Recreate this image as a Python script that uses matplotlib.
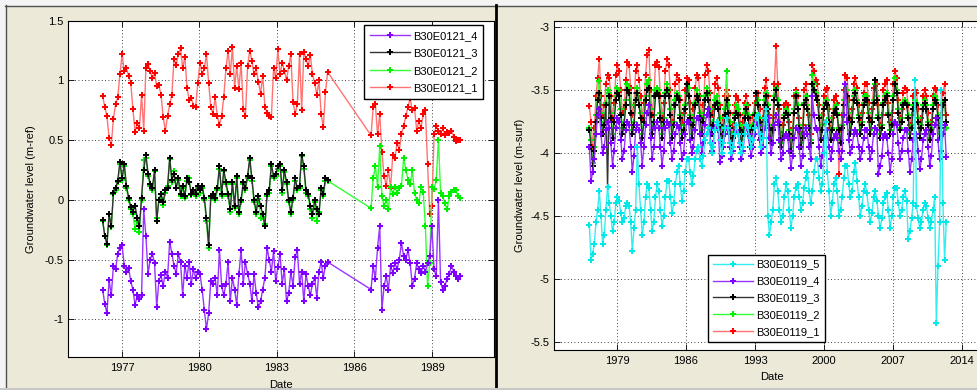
"""
Groundwater level time series for two well clusters (B30E0121, B30E0119).

Left:  B30E0121 filters 1-4, metres below reference (m-ref)
Right: B30E0119 filters 1-5, metres below surface (m-surf)

Saves: out.png
"""

import numpy as np
import matplotlib
matplotlib.use("Agg")
import matplotlib.pyplot as plt
from matplotlib.lines import Line2D
from matplotlib.patches import Rectangle

W, H = 977, 390

plt.rcParams["font.family"] = ["Liberation Sans", "DejaVu Sans"]
plt.rcParams["font.size"] = 8
plt.rcParams["axes.unicode_minus"] = False

# ---------------------------------------------------------------- left data
# monthly readings, first run Apr 1976 - Dec 1984, second run Aug 1986 - Jan 1990
left_early_span = (1976.25, 1984.96)
left_late_span = (1986.64, 1990.09)

b0121_1_early = [
    0.87, 0.78, 0.70, 0.52, 0.46, 0.68, 0.80, 0.86, 1.05,
    1.22, 1.08, 1.10, 1.04, 0.98, 0.76, 0.57, 0.64, 0.60, 0.88, 0.58, 1.10,
    1.14, 1.08, 1.02, 1.06, 0.95, 0.96, 0.88, 0.69, 0.58, 0.70, 0.80, 0.88,
    1.18, 1.13, 1.22, 1.27, 1.10, 1.20, 0.94, 0.84, 0.85, 0.79, 0.78, 0.98,
    1.15, 1.05, 1.10, 1.22, 0.98, 0.78, 0.72, 0.86, 0.70, 0.63, 0.70, 0.86,
    1.10, 1.25, 1.05, 1.28, 0.94, 1.12, 0.93, 1.15, 0.76, 0.70, 1.12, 1.25,
    1.16, 1.05, 1.10, 0.99, 0.89, 1.04, 0.78, 0.73, 0.70, 0.69, 1.10, 1.02,
    1.26, 1.05, 1.15, 1.08, 1.00, 1.12, 1.22, 0.82, 0.72, 0.80, 1.22, 0.75,
    1.24, 1.18, 1.12, 1.21, 1.05, 0.98, 0.88, 1.00, 0.72, 0.61, 0.90, 1.07,
]
b0121_1_late = [
    0.54, 0.78, 0.80, 0.55, 0.72, 0.40, 0.20, 0.12, 0.25, 0.10, 0.38, 0.35,
    0.48, 0.42, 0.55, 0.62, 0.70, 0.78, 0.85, 0.75, 0.77, 0.58, 0.66, 0.60,
    0.72, 0.75, 0.30, -0.12, -0.05, 0.55, 0.62, 0.58, 0.55, 0.60, 0.54, 0.57,
    0.56, 0.58, 0.53, 0.49, 0.50, 0.50,
]
b0121_2_early = [
    -0.18, -0.30, -0.38, -0.12, -0.23, 0.05, 0.08, 0.15, 0.30,
    0.17, 0.28, 0.10, 0.00, -0.08, -0.12, -0.24, -0.18, -0.27, 0.00, 0.33, 0.35,
    0.20, 0.12, 0.08, 0.24, -0.15, 0.00, 0.02, -0.04, 0.06, 0.12, 0.34, 0.15,
    0.24, 0.10, 0.17, 0.03, 0.10, 0.02, 0.16, 0.18, 0.04, 0.06, 0.03, 0.10,
    0.06, 0.10, 0.00, -0.18, -0.40, 0.02, 0.03, 0.00, 0.08, 0.26, 0.03, 0.24,
    0.13, 0.03, -0.10, 0.13, -0.07, 0.18, -0.12, -0.02, 0.13, 0.08, 0.18, 0.33,
    0.16, -0.02, -0.12, 0.01, -0.15, -0.14, -0.20, 0.03, 0.06, 0.28, 0.18, 0.20,
    0.26, 0.28, 0.06, 0.23, 0.13, -0.02, -0.12, 0.00, 0.16, 0.08, 0.10, 0.37,
    0.26, 0.06, 0.03, -0.08, -0.15, -0.02, -0.18, -0.10, 0.08, 0.03, 0.16, 0.16,
]
b0121_2_late = [
    -0.07, 0.18, 0.28, 0.11, 0.45, 0.03, -0.05, 0.00, -0.08, 0.11, 0.05, 0.11,
    0.06, 0.10, 0.12, 0.35, 0.25, 0.17, 0.13, 0.25, 0.06, 0.00, -0.03, 0.11,
    0.07, -0.22, -0.72, -0.53, 0.11, 0.09, 0.17, 0.50, 0.06, 0.03, -0.03, -0.08,
    0.03, 0.07, 0.08, 0.08, 0.03, 0.02,
]
b0121_3_early = [
    -0.17, -0.30, -0.37, -0.12, -0.22, 0.06, 0.10, 0.16, 0.32,
    0.18, 0.30, 0.12, 0.02, -0.06, -0.10, -0.05, -0.15, -0.22, 0.02, 0.25, 0.38,
    0.22, 0.13, 0.10, 0.25, -0.18, 0.00, 0.05, -0.02, 0.08, 0.10, 0.35, 0.17,
    0.22, 0.10, 0.18, 0.05, 0.12, 0.03, 0.18, 0.15, 0.05, 0.08, 0.05, 0.12,
    0.08, 0.12, 0.02, -0.15, -0.38, 0.03, 0.05, 0.02, 0.10, 0.28, 0.05, 0.25,
    0.15, 0.05, -0.08, 0.15, -0.05, 0.20, -0.10, 0.00, 0.15, 0.10, 0.20, 0.35,
    0.18, 0.00, -0.10, 0.03, -0.05, -0.12, -0.22, 0.05, 0.08, 0.30, 0.20, 0.22,
    0.28, 0.30, 0.08, 0.25, 0.15, 0.00, -0.10, 0.02, 0.18, 0.10, 0.12, 0.38,
    0.28, 0.08, 0.05, -0.05, -0.12, 0.00, -0.08, -0.12, 0.10, 0.05, 0.18, 0.17,
]
b0121_4_early = [
    -0.75, -0.87, -0.95, -0.67, -0.80, -0.55, -0.58, -0.45, -0.40,
    -0.38, -0.55, -0.60, -0.57, -0.68, -0.75, -0.88, -0.80, -0.83, -0.80, -0.08, -0.30,
    -0.62, -0.50, -0.45, -0.53, -0.90, -0.68, -0.63, -0.72, -0.60, -0.65, -0.35, -0.45,
    -0.55, -0.62, -0.45, -0.52, -0.80, -0.55, -0.65, -0.52, -0.70, -0.58, -0.65, -0.60,
    -0.62, -0.75, -0.92, -1.08, -0.95, -0.68, -0.70, -0.65, -0.80, -0.42, -0.72, -0.80,
    -0.70, -0.52, -0.85, -0.65, -0.75, -0.88, -0.62, -0.42, -0.70, -0.52, -0.62, -0.70,
    -0.85, -0.62, -0.78, -0.90, -0.85, -0.75, -0.65, -0.40, -0.50, -0.60, -0.43, -0.68,
    -0.56, -0.45, -0.70, -0.58, -0.85, -0.78, -0.60, -0.72, -0.48, -0.42, -0.70, -0.60,
    -0.85, -0.62, -0.72, -0.80, -0.70, -0.65, -0.82, -0.60, -0.52, -0.65, -0.55, -0.52,
]
b0121_4_late = [
    -0.75, -0.55, -0.66, -0.40, -0.22, -0.92, -0.72, -0.64, -0.75, -0.55, -0.61, -0.53,
    -0.58, -0.50, -0.36, -0.47, -0.50, -0.42, -0.53, -0.72, -0.66, -0.53, -0.58, -0.61,
    -0.55, -0.60, -0.53, -0.47, -0.22, -0.58, -0.64, 0.00, -0.69, -0.75, -0.72, -0.66,
    -0.62, -0.55, -0.60, -0.64, -0.66, -0.64,
]

# --------------------------------------------------------------- right data
# bi-monthly readings, Mar 1976 - Mar 2012, one row per year
right_span = (1976.2, 2012.4)

b0119_1 = [
    -3.63, -3.75, -3.95, -3.80, -3.55, -3.40,
    -3.25, -3.55, -3.70, -3.62, -3.45, -3.38,
    -3.40, -3.55, -3.72, -3.60, -3.38, -3.30,
    -3.35, -3.50, -3.68, -3.65, -3.42, -3.28,
    -3.30, -3.48, -3.70, -3.62, -3.35, -3.30,
    -3.42, -3.55, -3.72, -3.60, -3.38, -3.22,
    -3.18, -3.50, -3.70, -3.55, -3.30, -3.28,
    -3.32, -3.55, -3.72, -3.60, -3.35, -3.25,
    -3.30, -3.50, -3.75, -3.62, -3.45, -3.38,
    -3.42, -3.58, -3.75, -3.68, -3.50, -3.40,
    -3.42, -3.60, -3.78, -3.65, -3.48, -3.38,
    -3.40, -3.55, -3.72, -3.62, -3.38, -3.30,
    -3.35, -3.52, -3.70, -3.65, -3.45, -3.40,
    -3.48, -3.62, -3.80, -3.72, -3.55, -3.50,
    -3.55, -3.68, -3.85, -3.78, -3.62, -3.55,
    -3.58, -3.70, -3.82, -3.75, -3.60, -3.55,
    -3.62, -3.72, -3.80, -3.70, -3.60, -3.55,
    -3.52, -3.65, -3.78, -3.72, -3.48, -3.42,
    -3.55, -3.70, -3.85, -3.72, -3.45, -3.15,
    -3.45, -3.65, -3.85, -3.78, -3.62, -3.60,
    -3.62, -3.75, -3.90, -3.80, -3.55, -3.50,
    -3.55, -3.72, -3.85, -3.78, -3.50, -3.45,
    -3.55, -3.70, -3.85, -3.30, -3.35, -3.42,
    -3.45, -3.62, -3.82, -3.70, -3.55, -3.50,
    -3.48, -3.65, -3.80, -3.72, -3.58, -3.55,
    -3.60, -4.17, -3.82, -3.70, -3.50, -3.38,
    -3.40, -3.58, -3.75, -3.65, -3.45, -3.40,
    -3.48, -3.62, -3.75, -3.68, -3.52, -3.45,
    -3.45, -3.60, -3.75, -3.65, -3.48, -3.42,
    -3.45, -3.62, -3.78, -3.70, -3.50, -3.45,
    -3.42, -3.60, -3.75, -3.68, -3.45, -3.35,
    -3.40, -3.58, -3.72, -3.65, -3.52, -3.48,
    -3.50, -3.62, -3.78, -3.70, -3.55, -3.50,
    -3.52, -3.65, -3.80, -3.72, -3.55, -3.50,
    -3.55, -3.68, -3.82, -3.75, -3.55, -3.48,
    -3.50, -3.62, -3.78, -3.70, -3.52, -3.45,
    -3.70,
]
b0119_2 = [
    -3.80, -3.90, -4.08, -3.95, -3.70, -3.52,
    -3.43, -3.68, -3.82, -3.75, -3.60, -3.50,
    -3.52, -3.68, -3.85, -3.72, -3.55, -3.48,
    -3.50, -3.65, -3.80, -3.75, -3.58, -3.45,
    -3.48, -3.62, -3.82, -3.75, -3.52, -3.48,
    -3.58, -3.68, -3.85, -3.72, -3.55, -3.45,
    -3.42, -3.65, -3.82, -3.70, -3.50, -3.48,
    -3.50, -3.68, -3.85, -3.72, -3.52, -3.45,
    -3.50, -3.65, -3.85, -3.75, -3.58, -3.52,
    -3.55, -3.70, -3.85, -3.78, -3.62, -3.52,
    -3.48, -3.70, -3.85, -3.75, -3.60, -3.50,
    -3.55, -3.68, -3.82, -3.72, -3.55, -3.48,
    -3.52, -3.65, -3.80, -3.75, -3.58, -3.55,
    -3.60, -3.72, -3.88, -3.80, -3.65, -3.35,
    -3.62, -3.75, -3.92, -3.85, -3.70, -3.62,
    -3.65, -3.78, -3.90, -3.82, -3.68, -3.62,
    -3.70, -3.80, -3.88, -3.78, -3.68, -3.60,
    -3.58, -3.72, -3.85, -3.80, -3.58, -3.52,
    -3.62, -3.78, -3.90, -3.80, -3.55, -3.48,
    -3.58, -3.75, -3.92, -3.85, -3.70, -3.65,
    -3.68, -3.82, -3.95, -3.85, -3.65, -3.52,
    -3.62, -3.78, -3.92, -3.85, -3.60, -3.55,
    -3.62, -3.78, -3.90, -3.38, -3.45, -3.52,
    -3.55, -3.70, -3.88, -3.78, -3.62, -3.58,
    -3.58, -3.72, -3.88, -3.80, -3.65, -3.62,
    -3.68, -3.80, -3.90, -3.78, -3.58, -3.45,
    -3.50, -3.68, -3.82, -3.72, -3.55, -3.50,
    -3.58, -3.70, -3.82, -3.75, -3.60, -3.55,
    -3.55, -3.68, -3.82, -3.72, -3.58, -3.45,
    -3.55, -3.70, -3.85, -3.78, -3.60, -3.55,
    -3.52, -3.68, -3.82, -3.75, -3.55, -3.40,
    -3.50, -3.65, -3.80, -3.72, -3.60, -3.58,
    -3.60, -3.70, -3.85, -3.78, -3.62, -3.58,
    -3.60, -3.72, -3.85, -3.78, -3.62, -3.58,
    -3.62, -3.75, -3.88, -3.80, -3.62, -3.55,
    -3.58, -3.70, -3.85, -3.78, -3.60, -3.58,
    -3.80,
]
b0119_3 = [
    -3.82, -3.95, -4.10, -3.98, -3.75, -3.58,
    -3.52, -3.72, -3.85, -3.78, -3.62, -4.27,
    -3.55, -3.72, -3.88, -3.75, -3.58, -3.52,
    -3.55, -3.70, -3.85, -3.78, -3.62, -3.50,
    -3.52, -3.68, -3.85, -3.78, -3.58, -3.52,
    -3.62, -3.72, -3.88, -3.75, -3.58, -3.50,
    -3.48, -3.70, -3.85, -3.75, -3.55, -3.52,
    -3.55, -3.72, -3.88, -3.75, -3.55, -3.50,
    -3.55, -3.70, -3.88, -3.78, -3.62, -3.55,
    -3.58, -3.72, -3.88, -3.82, -3.65, -3.45,
    -3.55, -3.72, -3.88, -3.78, -3.62, -3.55,
    -3.58, -3.72, -3.85, -3.75, -3.58, -3.52,
    -3.58, -3.70, -3.85, -3.78, -3.62, -3.60,
    -3.65, -3.78, -3.92, -3.85, -3.70, -3.58,
    -3.68, -3.80, -3.95, -3.88, -3.72, -3.68,
    -3.70, -3.82, -3.92, -3.85, -3.72, -3.65,
    -3.72, -3.82, -3.90, -3.80, -3.70, -3.52,
    -3.62, -3.75, -3.88, -3.82, -3.62, -3.55,
    -3.65, -3.80, -3.92, -3.82, -3.58, -3.50,
    -3.62, -3.78, -3.95, -3.88, -3.72, -3.68,
    -3.70, -3.85, -3.98, -3.88, -3.68, -3.55,
    -3.65, -3.80, -3.95, -3.88, -3.62, -3.58,
    -3.65, -3.80, -3.92, -3.45, -3.50, -3.55,
    -3.58, -3.72, -3.90, -3.82, -3.65, -3.60,
    -3.62, -3.75, -3.90, -3.82, -3.68, -3.65,
    -3.70, -3.82, -3.92, -3.80, -3.62, -3.45,
    -3.55, -3.72, -3.85, -3.75, -3.58, -3.52,
    -3.60, -3.72, -3.85, -3.78, -3.62, -3.58,
    -3.58, -3.72, -3.85, -3.75, -3.60, -3.42,
    -3.58, -3.72, -3.88, -3.80, -3.62, -3.58,
    -3.55, -3.70, -3.85, -3.78, -3.58, -3.45,
    -3.52, -3.68, -3.82, -3.75, -3.62, -3.60,
    -3.62, -3.72, -3.88, -3.80, -3.65, -3.60,
    -3.62, -3.75, -3.88, -3.80, -3.65, -3.60,
    -3.65, -3.78, -3.90, -3.82, -3.65, -3.58,
    -3.60, -3.72, -3.88, -3.80, -3.62, -3.58,
    -3.75,
]
b0119_4 = [
    -3.95, -4.22, -4.15, -4.05, -3.85, -3.70,
    -3.65, -3.85, -4.00, -3.95, -3.82, -3.75,
    -3.80, -3.92, -4.10, -3.98, -3.80, -3.72,
    -3.75, -3.90, -4.05, -3.98, -3.82, -3.75,
    -3.78, -3.95, -4.15, -4.02, -3.82, -3.78,
    -3.82, -3.92, -4.10, -3.95, -3.78, -3.68,
    -3.62, -3.88, -4.05, -3.95, -3.80, -3.75,
    -3.80, -3.95, -4.10, -3.98, -3.80, -3.75,
    -3.78, -3.92, -4.05, -3.98, -3.85, -3.78,
    -3.80, -3.92, -4.05, -4.00, -3.85, -3.75,
    -3.75, -3.90, -4.00, -3.95, -3.82, -3.72,
    -3.72, -3.85, -4.00, -3.92, -3.78, -3.70,
    -3.65, -3.85, -3.98, -3.92, -3.80, -3.78,
    -3.82, -4.07, -4.02, -3.95, -3.85, -3.80,
    -3.82, -3.95, -4.05, -3.98, -3.85, -3.82,
    -3.85, -3.95, -4.05, -3.98, -3.85, -3.80,
    -3.85, -3.95, -4.02, -3.95, -3.85, -3.75,
    -3.78, -3.90, -4.00, -3.95, -3.80, -3.75,
    -3.72, -3.88, -4.00, -3.92, -3.78, -3.70,
    -3.75, -3.90, -4.05, -4.00, -3.88, -3.85,
    -3.88, -3.98, -4.12, -4.02, -3.88, -3.80,
    -3.82, -3.95, -4.10, -4.02, -3.85, -3.80,
    -3.85, -3.95, -4.05, -3.55, -3.70, -3.80,
    -3.82, -3.95, -4.10, -4.02, -3.88, -3.82,
    -3.82, -3.95, -4.05, -3.98, -3.88, -3.85,
    -3.88, -3.98, -4.05, -3.98, -3.70, -3.45,
    -3.75, -3.90, -4.00, -3.95, -3.85, -3.82,
    -3.85, -3.95, -4.05, -3.98, -3.88, -3.82,
    -3.82, -3.95, -4.05, -3.98, -3.85, -3.80,
    -3.82, -4.17, -4.10, -4.02, -3.88, -3.85,
    -3.88, -4.00, -4.15, -4.05, -3.85, -3.75,
    -3.78, -3.92, -4.05, -3.98, -3.88, -3.82,
    -3.82, -3.98, -4.15, -4.05, -3.90, -3.85,
    -3.85, -3.98, -4.13, -4.05, -3.90, -3.85,
    -3.82, -3.95, -4.10, -4.02, -3.85, -3.78,
    -3.72, -3.90, -4.05, -3.98, -3.85, -3.78,
    -4.03,
]
b0119_5 = [
    -4.57, -4.85, -4.80, -4.72, -4.55, -4.45,
    -4.30, -4.50, -4.72, -4.65, -4.45, -4.27,
    -4.40, -4.50, -4.62, -4.55, -4.40, -4.35,
    -4.38, -4.48, -4.55, -4.52, -4.42, -4.40,
    -4.42, -4.55, -4.78, -4.60, -4.45, -3.95,
    -4.25, -4.45, -4.65, -4.55, -4.35, -4.25,
    -4.28, -4.45, -4.62, -4.55, -4.35, -4.25,
    -4.30, -4.45, -4.58, -4.50, -4.35, -4.22,
    -4.22, -4.35, -4.48, -4.40, -4.25, -4.15,
    -4.10, -4.25, -4.38, -4.30, -4.15, -4.05,
    -4.05, -4.15, -4.25, -4.18, -4.05, -3.98,
    -3.95, -4.05, -4.10, -4.02, -3.90, -3.85,
    -3.80, -3.92, -4.00, -3.95, -3.82, -3.75,
    -3.78, -3.90, -4.00, -3.92, -3.80, -3.72,
    -3.80, -3.92, -4.00, -3.95, -3.85, -3.78,
    -3.85, -3.92, -4.00, -3.95, -3.85, -3.78,
    -3.80, -3.88, -3.95, -3.90, -3.80, -3.72,
    -3.70, -3.85, -3.95, -3.88, -3.72, -3.65,
    -4.50, -4.65, -4.55, -4.45, -4.25, -4.20,
    -4.30, -4.45, -4.55, -4.50, -4.35, -4.25,
    -4.30, -4.45, -4.60, -4.50, -4.35, -4.28,
    -4.25, -4.35, -4.45, -4.40, -4.28, -4.20,
    -4.15, -4.30, -4.40, -4.30, -4.15, -4.05,
    -4.05, -4.20, -4.30, -4.25, -4.00, -3.75,
    -4.15, -4.30, -4.50, -4.40, -4.25, -4.20,
    -4.30, -4.50, -4.45, -4.35, -4.20, -4.10,
    -4.10, -4.25, -4.35, -4.30, -4.15, -4.08,
    -4.22, -4.35, -4.50, -4.42, -4.30, -4.25,
    -4.32, -4.45, -4.55, -4.48, -4.35, -4.30,
    -4.38, -4.50, -4.60, -4.52, -4.40, -4.35,
    -4.32, -4.45, -4.60, -4.50, -4.35, -4.28,
    -4.28, -4.40, -4.50, -4.45, -4.35, -4.30,
    -4.38, -4.68, -4.62, -4.52, -4.40, -3.42,
    -4.42, -4.52, -4.60, -4.55, -4.45, -4.40,
    -4.42, -4.52, -4.60, -4.55, -4.45, -4.35,
    -5.35, -4.90, -4.55, -3.50, -4.40, -4.85,
    -4.55,
]

# tick labels
left_xticks = [1977, 1980, 1983, 1986, 1989]
left_yticks = [1.5, 1, 0.5, 0, -0.5, -1]
right_xticks = [1979, 1986, 1993, 2000, 2007, 2014]
right_yticks = [-3, -3.5, -4, -4.5, -5, -5.5]

# (line colour, marker colour) per filter, MATLAB-ish
styles = {
    "1": ("#ff7373", "#ff0000"),
    "2": ("#33ff33", "#00ee00"),
    "3": ("#333333", "#000000"),
    "4": ("#9933ff", "#8000ff"),
    "5": ("#33eeee", "#00e8e8"),
}


def fx(px):
    return px / W


def fy(py):
    return 1 - py / H


def plot_series(ax, x, y, key, label):
    line_c, mark_c = styles[key]
    return ax.plot(x, y, color=line_c, lw=1.0, marker="P", ms=4.4,
                   mfc=mark_c, mec=mark_c, mew=0, label=label)[0]


def style_axes(ax):
    ax.set_facecolor("white")
    ax.set_axisbelow(True)
    ax.grid(True, color="black", linestyle=(0, (1, 3)), linewidth=0.6)
    ax.tick_params(direction="in", length=4, width=0.6, top=True, right=True,
                   pad=3, labelsize=8, colors="black")
    ax.tick_params(axis="x", pad=4.5)
    for s in ax.spines.values():
        s.set_linewidth(0.8)


fig = plt.figure(figsize=(W / 100, H / 100), dpi=100, facecolor="#ece9d8")

# window frame around the two panels
fig.add_artist(Rectangle((0, fy(5)), 1, 1 - fy(5), transform=fig.transFigure,
                         color="#f4f4f4", zorder=0))
fig.add_artist(Rectangle((0, 0), fx(5), 1, transform=fig.transFigure,
                         color="#f4f4f4", zorder=0))
fig.add_artist(Line2D([fx(5), 1], [fy(5.5), fy(5.5)], transform=fig.transFigure,
                      color="#505050", lw=1.0))
fig.add_artist(Line2D([fx(5.5), fx(5.5)], [0, fy(5)], transform=fig.transFigure,
                      color="#505050", lw=1.0))
fig.add_artist(Line2D([fx(496), fx(496)], [0, fy(5)], transform=fig.transFigure,
                      color="black", lw=2.0))
fig.add_artist(Line2D([0, 1], [fy(388.5), fy(388.5)], transform=fig.transFigure,
                      color="#c8c8c8", lw=1.5))

# ------------------------------------------------------------------- left
ax1 = fig.add_axes([fx(68), fy(357), fx(494) - fx(68), fy(20.7) - fy(357)])
style_axes(ax1)

x_early = np.linspace(*left_early_span, len(b0121_1_early))
x_late = np.linspace(*left_late_span, len(b0121_1_late))
x_both = np.concatenate([x_early, x_late])

h1 = plot_series(ax1, x_both, b0121_1_early + b0121_1_late, "1", "B30E0121_1")
h2 = plot_series(ax1, x_both, b0121_2_early + b0121_2_late, "2", "B30E0121_2")
h3 = plot_series(ax1, x_early, b0121_3_early, "3", "B30E0121_3")
h4 = plot_series(ax1, x_both, b0121_4_early + b0121_4_late, "4", "B30E0121_4")

ax1.set_xlim(1974.91, 1991.4)
ax1.set_ylim(-1.315, 1.5)
ax1.set_xticks(left_xticks)
ax1.set_xticklabels([str(t) for t in left_xticks])
ax1.set_yticks(left_yticks)
ax1.set_yticklabels(["%g" % t for t in left_yticks])
ax1.set_xlabel("Date", labelpad=5)
ax1.set_ylabel("Groundwater level (m-ref)", labelpad=6)

ax1.legend([h4, h3, h2, h1], [h.get_label() for h in (h4, h3, h2, h1)],
           loc="upper right", bbox_to_anchor=(0.974, 0.987), borderaxespad=0,
           fancybox=False, framealpha=1, edgecolor="black", fontsize=8,
           numpoints=1, handlelength=3.6, handletextpad=0.3,
           labelspacing=0.68, borderpad=0.5)

# ------------------------------------------------------------------ right
ax2 = fig.add_axes([fx(554), fy(350), fx(990) - fx(554), fy(20.7) - fy(350)])
style_axes(ax2)

x_right = np.linspace(*right_span, len(b0119_1))
g1 = plot_series(ax2, x_right, b0119_1, "1", "B30E0119_1")
g2 = plot_series(ax2, x_right, b0119_2, "2", "B30E0119_2")
g3 = plot_series(ax2, x_right, b0119_3, "3", "B30E0119_3")
g4 = plot_series(ax2, x_right, b0119_4, "4", "B30E0119_4")
g5 = plot_series(ax2, x_right, b0119_5, "5", "B30E0119_5")

ax2.set_xlim(1972.61, 2016.84)
ax2.set_ylim(-5.566, -2.948)
ax2.set_xticks(right_xticks)
ax2.set_xticklabels([str(t) for t in right_xticks])
ax2.set_yticks(right_yticks)
ax2.set_yticklabels(["%g" % t for t in right_yticks])
ax2.set_xlabel("Date", labelpad=4)
ax2.set_ylabel("Groundwater level (m-surf)", labelpad=4)

ax2.legend([g5, g4, g3, g2, g1], [h.get_label() for h in (g5, g4, g3, g2, g1)],
           loc="lower left", bbox_to_anchor=(0.353, 0.024), borderaxespad=0,
           fancybox=False, framealpha=1, edgecolor="black", fontsize=8,
           numpoints=1, handlelength=3.6, handletextpad=0.3,
           labelspacing=0.62, borderpad=0.45)

fig.savefig("out.png", dpi=100, facecolor=fig.get_facecolor())
